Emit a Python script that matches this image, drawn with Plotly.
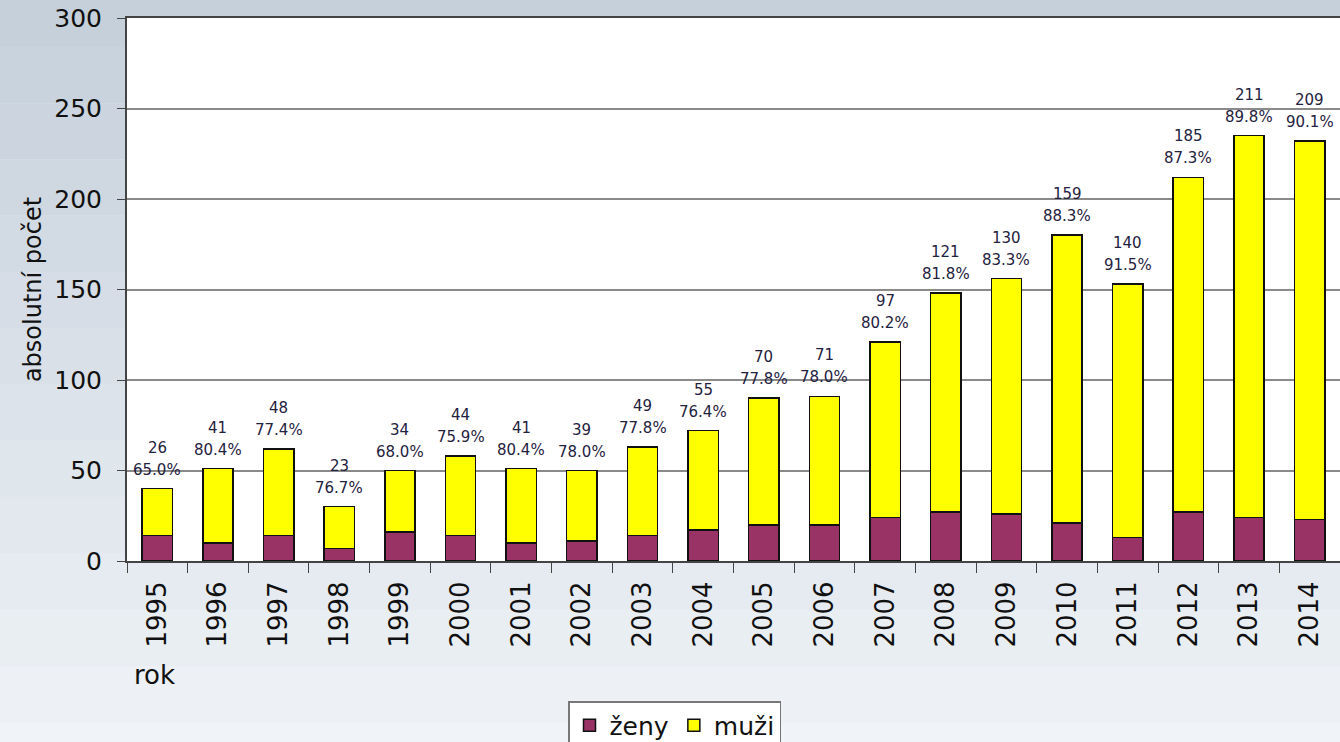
import plotly.graph_objects as go

years = [str(y) for y in range(1995, 2015)]
zeny = [14, 10, 14, 7, 16, 14, 10, 11, 14, 17, 20, 20, 24, 27, 26, 21, 13, 27, 24, 23]
muzi = [26, 41, 48, 23, 34, 44, 41, 39, 49, 55, 70, 71, 97, 121, 130, 159, 140, 185, 211, 209]
podil = ["65.0%", "80.4%", "77.4%", "76.7%", "68.0%", "75.9%", "80.4%", "78.0%", "77.8%", "76.4%",
         "77.8%", "78.0%", "80.2%", "81.8%", "83.3%", "88.3%", "91.5%", "87.3%", "89.8%", "90.1%"]

celkem = [z + m for z, m in zip(zeny, muzi)]

fig = go.Figure()
fig.add_trace(go.Bar(x=years, y=zeny, name="ženy", marker_color="#993366",
                     marker_line=dict(color="#111111", width=1.5)))
fig.add_trace(go.Bar(x=years, y=muzi, name="muži", marker_color="#ffff00",
                     marker_line=dict(color="#111111", width=1.5)))

# popisky nad sloupci: pocet muzu a podil (x = poradi kategorie)
label_font = dict(family="DejaVu Sans", size=15, color="#1f2240")
annotations = []
for i, (c, m, p) in enumerate(zip(celkem, muzi, podil)):
    annotations.append(dict(x=i, y=c, text=str(m), showarrow=False, yanchor="middle",
                            yshift=41, font=label_font))
    annotations.append(dict(x=i, y=c, text=p, showarrow=False, yanchor="middle",
                            yshift=19, font=label_font))
annotations.append(dict(text="rok", xref="paper", yref="paper", x=0.004, y=-0.21,
                        xanchor="left", yanchor="middle", showarrow=False,
                        font=dict(size=26)))

# svisly prechod pozadi
shapes = []
n = 14
top, bot = (197, 208, 219), (240, 243, 247)
for i in range(n):
    t = i / (n - 1)
    c = tuple(round(top[k] + (bot[k] - top[k]) * t) for k in range(3))
    shapes.append(dict(type="rect", xref="paper", yref="paper", layer="below",
                       x0=-0.2, x1=1.2, y0=1.05 - (i + 1) * 1.45 / n, y1=1.05 - i * 1.45 / n,
                       fillcolor="rgb(%d,%d,%d)" % c, line_width=0))
shapes.append(dict(type="rect", xref="paper", yref="paper", layer="below",
                   x0=0, x1=1, y0=0, y1=1, fillcolor="white", line_width=0))

fig.update_layout(
    width=1340, height=742,
    margin=dict(l=127, r=0, t=18, b=181),
    barmode="stack", bargap=0.5,
    paper_bgcolor="#e3e8ee", plot_bgcolor="white",
    font=dict(family="DejaVu Sans", color="#111111"),
    shapes=shapes,
    annotations=annotations,
    showlegend=True,
    legend=dict(orientation="h", xref="container", yref="container",
                x=568 / 1340, xanchor="left", y=(742 - 701) / 742, yanchor="top",
                bgcolor="white", bordercolor="#777777", borderwidth=1.5,
                font=dict(size=25), traceorder="normal", itemwidth=30),
    xaxis=dict(type="category", range=[-0.5, len(years) - 0.5], tickangle=-90,
               tickfont=dict(size=26), showline=True, automargin=False,
               linecolor="#444444", linewidth=2, mirror=True, ticks="outside",
               tickson="boundaries", ticklen=10, tickcolor="#444444", showgrid=False,
               ticklabelstandoff=8),
    yaxis=dict(range=[0, 300], dtick=50, tickfont=dict(size=25), showline=True,
               automargin=False,
               linecolor="#444444", linewidth=2, ticks="outside", ticklen=8,
               tickcolor="#444444", gridcolor="#8a8a8a", gridwidth=1.5,
               ticklabelstandoff=10,
               title=dict(text="absolutní počet", font=dict(size=24), standoff=6)),
)

fig.write_html("out.html", config={"displayModeBar": False},
               post_script="document.body.style.margin='0';")
